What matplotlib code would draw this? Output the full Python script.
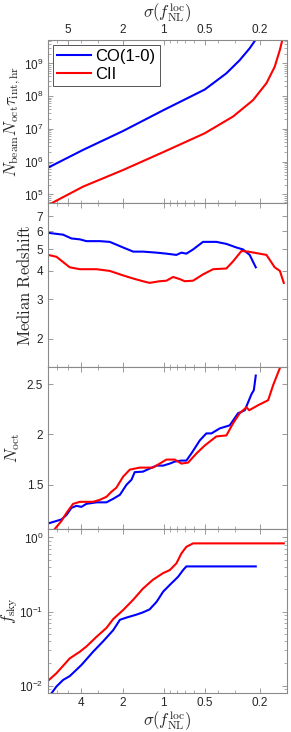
import numpy as np
import matplotlib
matplotlib.use("Agg")
import matplotlib.pyplot as plt
from matplotlib.ticker import FixedLocator, NullLocator, LogLocator, NullFormatter

plt.rcParams['font.family'] = ['Liberation Sans', 'DejaVu Sans']
plt.rcParams['mathtext.fontset'] = 'stixsans'

# ---------------- data ----------------
series_names = ["CO(1-0)", "CII"]

# Panel 1: N_beam N_oct tau_int,hr
p1_co_sigma = [6.99, 3.88, 1.98, 1.00, 0.502, 0.349, 0.279, 0.236, 0.213]
p1_co_val = [6.6e5, 2.3e6, 8.7e6, 3.8e7, 1.6e8, 5.0e8, 1.26e9, 2.9e9, 5.4e9]
p1_cii_sigma = [6.99, 6.07, 3.88, 1.98, 1.00, 0.502, 0.312, 0.223, 0.178, 0.155, 0.142, 0.136]
p1_cii_val = [4.7e4, 6.5e4, 1.74e5, 5.6e5, 2.0e6, 7.4e6, 2.4e7, 7.6e7, 2.5e8, 7.9e8, 2.6e9, 5.4e9]

# Panel 2: median redshift
p2_co_sigma = [6.99, 5.43, 4.72, 4.10, 3.67, 2.93, 2.48, 1.98, 1.67, 1.42, 1.13, 0.956,
               0.809, 0.743, 0.684, 0.611, 0.517, 0.413, 0.349, 0.295, 0.264, 0.236, 0.213]
p2_co_val = [5.90, 5.79, 5.57, 5.52, 5.42, 5.42, 5.38, 5.08, 4.87, 4.87, 4.82, 4.77,
             4.71, 4.82, 4.77, 4.98, 5.38, 5.38, 5.27, 5.08, 4.98, 4.71, 4.15]
p2_cii_sigma = [6.99, 6.07, 4.86, 4.10, 3.10, 2.48, 1.98, 1.67, 1.42, 1.27, 1.07, 0.956,
                0.855, 0.764, 0.703, 0.611, 0.517, 0.436, 0.349, 0.312, 0.271, 0.242,
                0.178, 0.155, 0.142, 0.133]
p2_cii_val = [4.71, 4.62, 4.15, 4.07, 4.07, 4.00, 3.82, 3.70, 3.60, 3.54, 3.60, 3.62,
              3.76, 3.68, 3.60, 3.62, 3.86, 4.07, 4.10, 4.41, 4.90, 4.87,
              4.71, 4.15, 4.00, 3.54]

# Panel 3: N_oct
p3_co_sigma = [6.99, 6.07, 5.58, 5.13, 4.72, 4.34, 3.99, 3.67, 3.10, 2.62, 2.34, 2.09,
               1.87, 1.72, 1.63, 1.42, 1.27, 1.13, 1.01, 0.904, 0.831, 0.743, 0.684,
               0.629, 0.546, 0.489, 0.449, 0.390, 0.330, 0.287, 0.256, 0.229, 0.220, 0.213]
p3_co_val = [1.115, 1.14, 1.155, 1.20, 1.27, 1.29, 1.28, 1.31, 1.325, 1.325, 1.36, 1.40,
             1.50, 1.55, 1.625, 1.63, 1.66, 1.69, 1.69, 1.71, 1.73, 1.74, 1.74,
             1.81, 1.94, 2.01, 2.01, 2.06, 2.09, 2.21, 2.24, 2.40, 2.44, 2.585]
p3_cii_sigma = [6.25, 5.58, 5.13, 4.59, 4.10, 3.28, 2.93, 2.62, 2.41, 2.22, 1.98, 1.77,
                1.50, 1.20, 1.07, 0.956, 0.831, 0.743, 0.664, 0.578, 0.502, 0.413,
                0.349, 0.312, 0.279, 0.249, 0.238, 0.205, 0.173, 0.159, 0.142]
p3_cii_val = [1.06, 1.14, 1.22, 1.31, 1.33, 1.33, 1.35, 1.38, 1.43, 1.47, 1.58, 1.65,
              1.67, 1.67, 1.71, 1.75, 1.75, 1.71, 1.72, 1.81, 1.89, 1.98,
              1.99, 2.11, 2.21, 2.27, 2.24, 2.29, 2.34, 2.49, 2.66]

# Panel 4: f_sky
p4_co_sigma = [6.61, 6.07, 5.43, 4.86, 3.99, 3.28, 2.77, 2.34, 2.09, 1.87, 1.58, 1.42,
               1.27, 1.13, 1.01, 0.904, 0.786, 0.723, 0.684, 0.629, 0.213]
p4_co_val = [0.0079, 0.0098, 0.0120, 0.0135, 0.0191, 0.0288, 0.0398, 0.0562, 0.0776,
             0.0832, 0.0912, 0.0977, 0.107, 0.135, 0.186, 0.229, 0.295, 0.363, 0.407,
             0.407, 0.407]
p4_cii_sigma = [6.99, 6.07, 4.86, 4.10, 3.67, 3.10, 2.62, 2.34, 1.98, 1.67, 1.42, 1.20,
                1.01, 0.904, 0.809, 0.743, 0.684, 0.611, 0.133]
p4_cii_val = [0.0117, 0.0148, 0.0234, 0.0288, 0.0339, 0.0457, 0.0603, 0.0794, 0.105,
              0.145, 0.204, 0.269, 0.331, 0.363, 0.447, 0.610, 0.748, 0.832, 0.832]

top_ticks = [5, 2, 1, 0.5, 0.2]
top_ticklabels = ["5", "2", "1", "0.5", "0.2"]
bottom_ticks = [4, 2, 1, 0.5, 0.2]
bottom_ticklabels = ["4", "2", "1", "0.5", "0.2"]

# ---------------- figure ----------------
W, H = 291, 732
fig = plt.figure(figsize=(W / 100, H / 100), dpi=100)

left = 48 / W
width = (287 - 48) / W
edges = [40, 203, 367, 529, 693]
axes = []
for i in range(4):
    b = 1 - edges[i + 1] / H
    h = (edges[i + 1] - edges[i]) / H
    axes.append(fig.add_axes([left, b, width, h]))

blue = '#0000FF'
red = '#FF0000'
lw = 1.5
spine_col = '#8a8a8a'
txt_col = '#262626'
xlim = (7.0, 0.126)
label_fs = 12
tick_fs = 8.5

data = [
    (p1_co_sigma, p1_co_val, p1_cii_sigma, p1_cii_val),
    (p2_co_sigma, p2_co_val, p2_cii_sigma, p2_cii_val),
    (p3_co_sigma, p3_co_val, p3_cii_sigma, p3_cii_val),
    (p4_co_sigma, p4_co_val, p4_cii_sigma, p4_cii_val),
]

for ax, (cs, cv, rs, rv) in zip(axes, data):
    ax.plot(cs, cv, color=blue, lw=lw, label=series_names[0])
    ax.plot(rs, rv, color=red, lw=lw, label=series_names[1])
    ax.set_xscale('log')
    ax.set_xlim(*xlim)
    for s in ax.spines.values():
        s.set_color(spine_col)
        s.set_linewidth(0.8)
    ax.tick_params(which='both', direction='in', top=True, right=True,
                   colors=spine_col, labelcolor=txt_col, labelsize=tick_fs,
                   labelbottom=False, labeltop=False)
    ax.tick_params(which='major', length=3.5, width=0.6)
    ax.tick_params(which='minor', length=2, width=0.5)
    ax.xaxis.set_minor_locator(LogLocator(base=10, subs=np.arange(2, 10) * 1.0, numticks=20))
    ax.xaxis.set_minor_formatter(NullFormatter())

# x ticks
axes[0].set_xticks(top_ticks, top_ticklabels)
axes[0].tick_params(axis='x', labeltop=True, pad=3)
axes[0].xaxis.set_label_position('top')
axes[0].set_xlabel(r'$\sigma(f_{\rm NL}^{\rm loc})$', fontsize=label_fs,
                   math_fontfamily='cm', labelpad=4, color=txt_col)
for ax in axes[1:3]:
    ax.set_xticks(bottom_ticks, ["" for _ in bottom_ticks])
axes[3].set_xticks(bottom_ticks, bottom_ticklabels)
axes[3].tick_params(axis='x', labelbottom=True, pad=3)
axes[3].set_xlabel(r'$\sigma(f_{\rm NL}^{\rm loc})$', fontsize=label_fs,
                   math_fontfamily='cm', labelpad=0, color=txt_col)

# panel 1
ax = axes[0]
ax.set_yscale('log')
ax.set_ylim(5.5e4, 5.2e9)
ax.yaxis.set_major_locator(LogLocator(base=10, numticks=20))
ax.yaxis.set_minor_locator(LogLocator(base=10, subs=np.arange(2, 10) * 1.0, numticks=20))
ax.yaxis.set_minor_formatter(NullFormatter())
ax.set_ylabel(r'$N_{\rm beam}N_{\rm oct}\tau_{\rm int,hr}$', fontsize=label_fs,
              math_fontfamily='cm', color=txt_col)
leg = ax.legend(loc='upper left', fontsize=12, frameon=True, fancybox=False,
                framealpha=1, edgecolor='#555555', handlelength=2.0,
                handletextpad=0.3, borderpad=0.25, labelspacing=0.15,
                borderaxespad=0.3)
leg.get_frame().set_linewidth(0.7)

# panel 2
ax = axes[1]
ax.set_yscale('log')
ax.set_ylim(1.5, 8.0)
ax.yaxis.set_major_locator(FixedLocator([2, 3, 4, 5, 6, 7]))
ax.set_yticklabels(["2", "3", "4", "5", "6", "7"])
ax.yaxis.set_minor_locator(NullLocator())
ax.set_ylabel(r'$\mathrm{Median\ Redshift}$', fontsize=label_fs,
              math_fontfamily='cm', color=txt_col)

# panel 3
ax = axes[2]
ax.set_ylim(1.06, 2.67)
ax.set_yticks([1.5, 2, 2.5], ["1.5", "2", "2.5"])
ax.set_ylabel(r'$N_{\rm oct}$', fontsize=label_fs, math_fontfamily='cm',
              color=txt_col)

# panel 4
ax = axes[3]
ax.set_yscale('log')
ax.set_ylim(8e-3, 1.3)
ax.yaxis.set_major_locator(LogLocator(base=10, numticks=20))
ax.yaxis.set_minor_locator(LogLocator(base=10, subs=np.arange(2, 10) * 1.0, numticks=20))
ax.yaxis.set_minor_formatter(NullFormatter())
ax.set_ylabel(r'$f_{\rm sky}$', fontsize=label_fs, math_fontfamily='cm',
              color=txt_col)

# y-label centres (in pixels from the left edge of the figure)
label_centres_px = [12.5, 25.0, 13.0, 10.0]
for ax, cx in zip(axes, label_centres_px):
    ax.yaxis.label.set_verticalalignment('center')
    ax.yaxis.set_label_coords((cx - 48) / (287 - 48), 0.5)

fig.savefig('out.png', dpi=100, facecolor='white')
